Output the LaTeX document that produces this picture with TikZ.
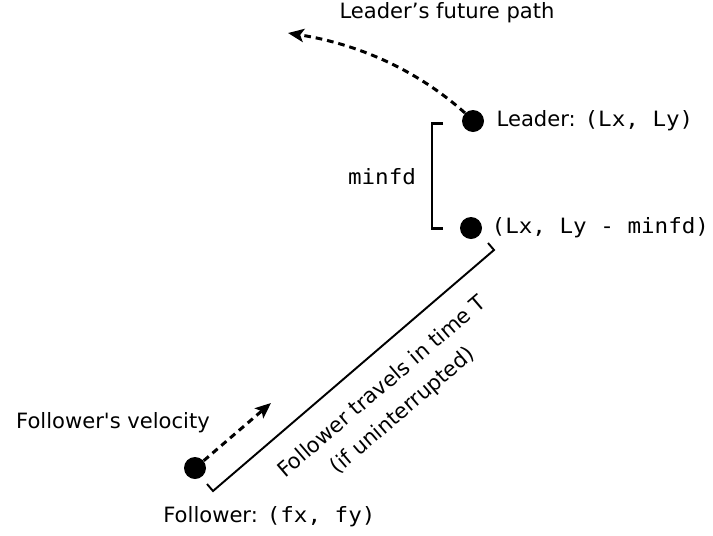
\documentclass[tikz,border=0pt]{standalone}
\usepackage{fontspec}
\setmainfont{DejaVu Sans}
\setmonofont[FakeStretch=1.07]{DejaVu Sans Mono}
\usetikzlibrary{arrows.meta,positioning}

\begin{document}
\begin{tikzpicture}[x=0.02cm,y=-0.02cm,
        dot/.style={circle,fill=black,inner sep=0pt,minimum size=0.44cm},
        lbl/.style={inner sep=0pt,font=\fontsize{12}{14}\selectfont},
        dasharrow/.style={line width=1.7pt,dash pattern=on 3.8pt off 2.8pt,-{Stealth[length=9pt,width=7.5pt,inset=2pt]}},
        bracket/.style={line width=1.7pt},
        thinbracket/.style={line width=1.1pt}]
        \useasboundingbox (0,0) rectangle (713,535);

        % Positions
        \node[dot] (leader) at (473,121) {};
        \node[dot] (target) at (471,228) {};
        \node[dot] (follower) at (195,468) {};

        % Labels
        \node[lbl,right=0.24cm of leader] (leaderlbl) {Leader: \texttt{(Lx, Ly)}};
        \node[lbl,right=0.18cm of target] (targetlbl) {\texttt{(Lx, Ly - minfd)}};
        \node[lbl,anchor=north west] (followerlbl) at (163,506) {Follower: \texttt{(fx, fy)}};
        \node[lbl] (pathlbl) at (447,13) {Leader’s future path};
        \node[lbl] (vellbl) at (113,423) {Follower\textquotesingle s velocity};

        % Leader's future path
        \coordinate (pathtip) at (288,33);
        \draw[dasharrow] (leader.135) .. controls (417,70) and (358,44) .. (pathtip);

        % Follower's velocity
        \coordinate (veltip) at (271,403);
        \draw[dasharrow] (follower.40) -- (veltip);

        % minfd bracket
        \coordinate (mtop) at (443,123);
        \coordinate (mbot) at (443,228);
        \draw[bracket] (mtop) -- (432,123) -- (432,228) -- (mbot);
        \node[lbl,font=\ttfamily\fontsize{12}{14}\selectfont] (minfdlbl) at (382,177) {minfd};

        % Distance travelled in time T
        \coordinate (fstart) at (207,484);
        \coordinate (fcorner) at (213,491);
        \coordinate (tcorner) at (494,250);
        \coordinate (tend) at (488,243);
        \draw[thinbracket] (fstart) -- (fcorner)
            -- node[lbl,font=\fontsize{12}{18}\selectfont,pos=0.53,sloped,yshift=-0.95cm,align=center] (travellbl)
               {Follower travels in time T\\(if uninterrupted)} (tcorner)
            -- (tend);
    \end{tikzpicture}
\end{document}
